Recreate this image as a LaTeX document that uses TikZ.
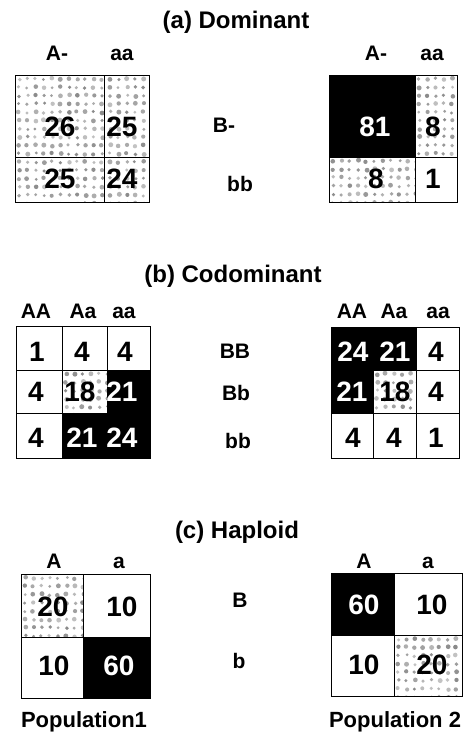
\documentclass[tikz,border=0pt]{standalone}
\usepackage{fontspec}
\setmainfont{Liberation Sans}
\tikzset{
  num/.style={font=\fontsize{28}{28}\selectfont\bfseries, inner sep=0pt},
  wnum/.style={num, text=white},
  hdr/.style={font=\fontsize{21}{21}\selectfont\bfseries, inner sep=0pt, anchor=base},
  rowlab/.style={font=\fontsize{21}{21}\selectfont\bfseries, inner sep=0pt, anchor=base},
  ttl/.style={font=\fontsize{24}{24}\selectfont\bfseries, inner sep=0pt, anchor=base},
  poplab/.style={font=\fontsize{22}{22}\selectfont\bfseries, inner sep=0pt, anchor=base},
  gridln/.style={line width=0.9pt, draw=black},
  blk/.style={fill=black},
}
\definecolor{dotgray}{HTML}{8A8A8A}
\pgfmathsetseed{4217}
% stippled grey fill of a rectangle (x1,y1)-(x2,y2)
\newcommand{\stip}[4]{%
  \begin{scope}
    \clip (#1,#2) rectangle (#3,#4);
    \foreach \i in {0,...,17}{%
      \foreach \j in {0,...,17}{%
        \pgfmathsetmacro{\dx}{0.9*rand}%
        \pgfmathsetmacro{\dy}{0.9*rand}%
        \pgfmathsetmacro{\rr}{2.0+0.5*rand}%
        \pgfmathsetmacro{\op}{0.75+0.25*rand}%
        \fill[dotgray, opacity=\op] ({#1+4+8.3*\i+\dx},{#2+4+8.3*\j+\dy}) circle (\rr);
      }%
    }%
  \end{scope}}
\begin{document}
\begin{tikzpicture}[x=1pt,y=-1pt]
\useasboundingbox (0,0) rectangle (471,734);
\fill[white] (0,0) rectangle (471,734);

% ---------------- (a) Dominant ----------------
\node[ttl] (ta) at (236,28) {(a) Dominant};
\node[hdr] (ha1) at (57,60) {A-};
\node[hdr] (ha2) at (122,60) {aa};
\node[hdr] (ha3) at (376,60) {A-};
\node[hdr] (ha4) at (432,60) {aa};

% left table: all cells stippled
\stip{15}{75}{149}{202}
\draw[gridln] (15,75) rectangle (149,202);
\draw[gridln] (104,75) -- (104,202) (15,157) -- (149,157);
\node[num] (a11) at (60,127) {26};
\node[num] (a12) at (122,127) {25};
\node[num] (a21) at (60,179) {25};
\node[num] (a22) at (122,179) {24};

% right table
\fill[blk] (329,75) rectangle (415,157);
\stip{415}{75}{457}{157}
\stip{329}{157}{415}{202}
\draw[gridln] (329,75) rectangle (457,202);
\draw[gridln] (415,75) -- (415,202) (329,157) -- (457,157);
\node[wnum] (b11) at (375,127) {81};
\node[num] (b12) at (433,127) {8};
\node[num] (b21) at (376,179) {8};
\node[num] (b22) at (433,179) {1};

\node[rowlab] (ra1) at (224,132) {B-};
\node[rowlab] (ra2) at (240,191) {bb};

% ---------------- (b) Codominant ----------------
\node[ttl] (tb) at (233,282) {(b) Codominant};
\node[hdr] (hb1) at (36,318) {AA};
\node[hdr] (hb2) at (83,318) {Aa};
\node[hdr] (hb3) at (124,318) {aa};
\node[hdr] (hb4) at (352,318) {AA};
\node[hdr] (hb5) at (394,318) {Aa};
\node[hdr] (hb6) at (438,318) {aa};

% left table
\stip{62}{370}{107}{413}
\fill[blk] (107,370) rectangle (150,413);
\fill[blk] (62,413) rectangle (150,458);
\draw[gridln] (16,326) rectangle (150,458);
\draw[gridln] (62,326) -- (62,458) (107,326) -- (107,370) (16,370) -- (150,370) (16,413) -- (107,413);
\node[num] (c11) at (37,352) {1};
\node[num] (c12) at (82,352) {4};
\node[num] (c13) at (125,352) {4};
\node[num] (c21) at (36,392) {4};
\node[num] (c22) at (80,392) {18};
\node[wnum] (c23) at (122,392) {21};
\node[num] (c31) at (36,438) {4};
\node[wnum] (c32) at (82,438) {21};
\node[wnum] (c33) at (122,438) {24};

% right table
\fill[blk] (331,327) rectangle (416,370);
\fill[blk] (331,370) rectangle (373,413);
\stip{373}{370}{416}{413}
\draw[gridln] (331,327) rectangle (459,458);
\draw[gridln] (416,327) -- (416,458) (373,370) -- (373,458) (373,370) -- (459,370) (331,413) -- (459,413);
\node[wnum] (d11) at (353,352) {24};
\node[wnum] (d12) at (395,352) {21};
\node[num] (d13) at (436,352) {4};
\node[wnum] (d21) at (352,392) {21};
\node[num] (d22) at (395,392) {18};
\node[num] (d23) at (436,392) {4};
\node[num] (d31) at (353,438) {4};
\node[num] (d32) at (394,438) {4};
\node[num] (d33) at (436,438) {1};

\node[rowlab] (rb1) at (235,358) {BB};
\node[rowlab] (rb2) at (236,400) {Bb};
\node[rowlab] (rb3) at (238,448) {bb};

% ---------------- (c) Haploid ----------------
\node[ttl] (tc) at (237,538) {(c) Haploid};
\node[hdr] (hc1) at (54,568) {A};
\node[hdr] (hc2) at (119,568) {a};
\node[hdr] (hc3) at (364,568) {A};
\node[hdr] (hc4) at (428,568) {a};

% left table
\stip{21}{574}{83}{637}
\fill[blk] (83,637) rectangle (150,698);
\draw[gridln] (21,574) rectangle (150,698);
\draw[gridln] (83,574) -- (83,698) (21,637) -- (150,637);
\node[num] (e11) at (53,607) {20};
\node[num] (e12) at (122,607) {10};
\node[num] (e21) at (54,666) {10};
\node[wnum] (e22) at (119,666) {60};

% right table
\fill[blk] (331,573) rectangle (394,635);
\stip{394}{635}{462}{696}
\draw[gridln] (331,573) rectangle (462,696);
\draw[gridln] (394,573) -- (394,696) (331,635) -- (462,635);
\node[wnum] (f11) at (364,605) {60};
\node[num] (f12) at (432,605) {10};
\node[num] (f21) at (364,665) {10};
\node[num] (f22) at (432,665) {20};

\node[rowlab] (rc1) at (240,607) {B};
\node[rowlab] (rc2) at (239,668) {b};

\node[poplab] (p1) at (84,727) {Population1};
\node[poplab] (p2) at (395,727) {Population 2};
\end{tikzpicture}
\end{document}
